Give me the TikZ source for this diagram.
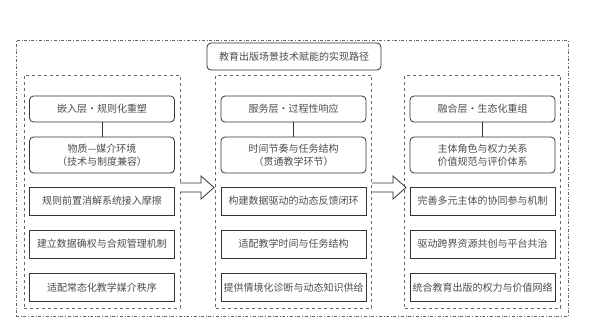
\documentclass[tikz,border=0pt]{standalone}
\usepackage{fontspec}
\setmainfont{Noto Sans CJK SC}
\usetikzlibrary{positioning}

\begin{document}
\begin{tikzpicture}[x=1pt, y=-1pt,
	every node/.style={font=\fontsize{10}{13}\selectfont, text=black!70, align=center},
	box/.style={draw=black!80, line width=0.8pt, minimum width=145pt, minimum height=28pt, inner sep=0pt},
	rbox/.style={box, rounded corners=4pt},
	panel/.style={draw=black!60, dashed, line width=0.7pt, minimum width=156pt, minimum height=233pt}]
\useasboundingbox (0,0) rectangle (595,322);
\node[draw=black!60, dash dot, line width=0.7pt, minimum width=552pt, minimum height=276pt] (outer) at (292,178) {};
\node[rbox, minimum width=174pt, minimum height=27pt] (title) at (294,56.5) {教育出版场景技术赋能的实现路径};
\foreach \c/\xc/\ta/\tb/\tc/\td/\te in {
	l/102/{嵌入层・规则化重塑}/{物质—媒介环境\\（技术与制度兼容）}/{规则前置消解系统接入摩擦}/{建立数据确权与合规管理机制}/{适配常态化教学媒介秩序},
	m/293.5/{服务层・过程性响应}/{时间节奏与任务结构\\（贯通教学环节）}/{构建数据驱动的动态反馈闭环}/{适配教学时间与任务结构}/{提供情境化诊断与动态知识供给},
	r/482.5/{融合层・生态化重组}/{主体角色与权力关系\\价值规范与评价体系}/{完善多元主体的协同参与机制}/{驱动跨界资源共创与平台共治}/{统合教育出版的权力与价值网络}} {
	\node[panel] (\c p) at (\xc,191.5) {};
	\node[rbox, minimum height=26pt] (\c1) at (\xc,109) {\ta};
	\node[rbox, minimum height=36pt] (\c2) at (\xc,155) {\tb};
	\node[box] (\c3) at (\xc,201) {\tc};
	\node[box] (\c4) at (\xc,244) {\td};
	\node[box] (\c5) at (\xc,287.5) {\te};
	\draw[black!80, line width=0.8pt] (\c1) -- (\c2);
}
% block arrows between the layers
\foreach \xa in {180,372} {
	\draw[black!80, line width=0.8pt, fill=white] (\xa,183) -- (\xa+21,183) -- (\xa+21,176) -- (\xa+34,187.5) -- (\xa+21,199) -- (\xa+21,192) -- (\xa,192);
}
\end{tikzpicture}
\end{document}
